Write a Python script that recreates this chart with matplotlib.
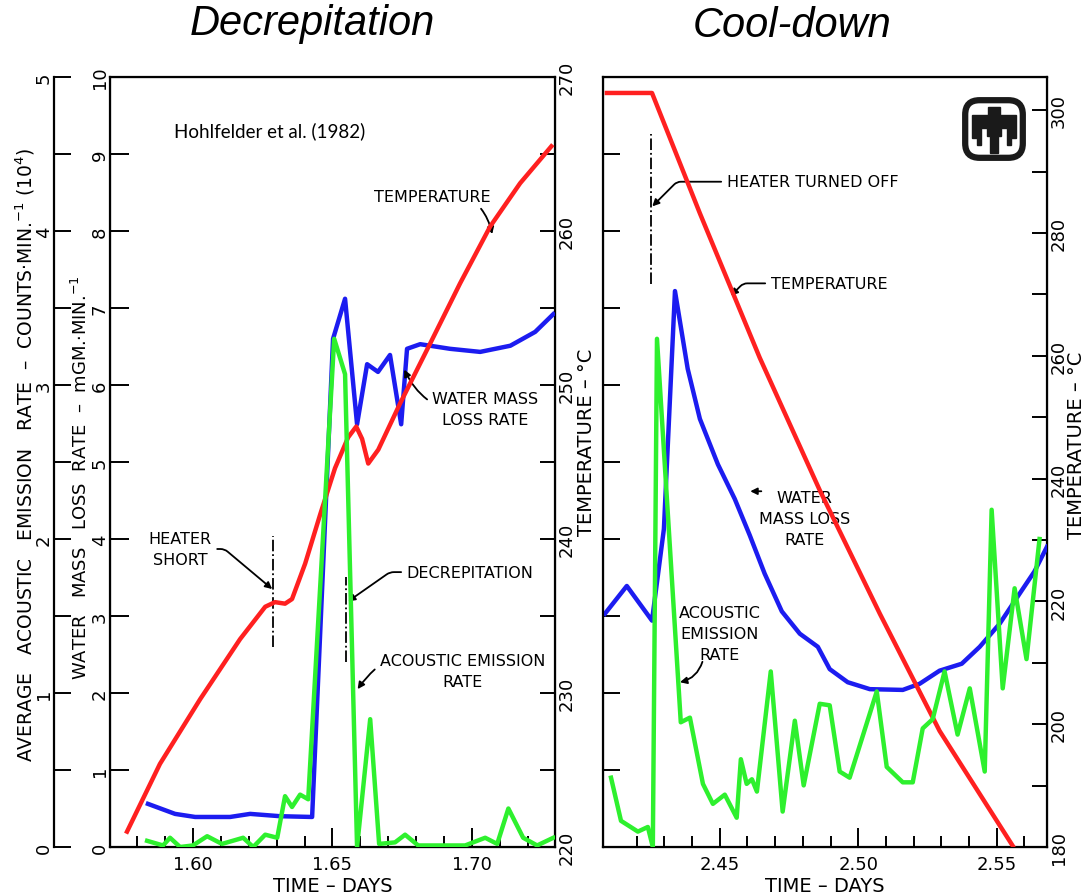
import numpy as np
import matplotlib.pyplot as plt
from matplotlib.patches import FancyBboxPatch, Polygon

plt.rcParams['font.family'] = ['Liberation Sans Narrow', 'DejaVu Sans']
plt.rcParams['mathtext.fontset'] = 'dejavusans'

RED = '#ff2020'
BLUE = '#1c1cf0'
GREEN = '#2ef02e'

# ---------------- Decrepitation (left panel) ----------------
dec_temp_t = [1.5764, 1.5882, 1.6026, 1.6169, 1.6259, 1.6294, 1.6330, 1.6355, 1.6402,
              1.6456, 1.6509, 1.6556, 1.6585, 1.6606, 1.6628, 1.6664, 1.6742, 1.6850,
              1.6957, 1.7065, 1.7172, 1.7284]
dec_temp = [221.0, 225.4, 229.6, 233.5, 235.6, 235.9, 235.8, 236.1, 238.4,
            241.6, 244.6, 246.6, 247.3, 246.5, 244.9, 245.8, 248.8, 252.7,
            256.6, 260.3, 263.1, 265.5]

dec_water_t = [1.5839, 1.5936, 1.6008, 1.6133, 1.6205, 1.6312, 1.6427, 1.6502, 1.6545,
               1.6588, 1.6624, 1.6663, 1.6706, 1.6746, 1.6767, 1.6814, 1.6921, 1.7029,
               1.7137, 1.7226, 1.7291]
dec_water = [0.56, 0.43, 0.39, 0.39, 0.43, 0.40, 0.39, 6.60, 7.12,
             5.49, 6.27, 6.17, 6.39, 5.49, 6.47, 6.53, 6.47, 6.43,
             6.51, 6.69, 6.92]

dec_ae_t = [1.5836, 1.5893, 1.5918, 1.5954, 1.6000, 1.6051, 1.6104, 1.6180, 1.6216,
            1.6259, 1.6302, 1.6330, 1.6355, 1.6384, 1.6413, 1.6506, 1.6545, 1.6588,
            1.6635, 1.6667, 1.6724, 1.6760, 1.6807, 1.6975, 1.7047, 1.7090, 1.7130,
            1.7183, 1.7233, 1.7291]
dec_ae = [0.04, 0.01, 0.06, 0.0, 0.01, 0.07, 0.02, 0.06, 0.0,
          0.08, 0.06, 0.33, 0.26, 0.34, 0.31, 3.30, 3.07, 0.0,
          0.83, 0.02, 0.03, 0.08, 0.01, 0.01, 0.06, 0.02, 0.25,
          0.06, 0.01, 0.06]

# ---------------- Cool-down (right panel) ----------------
cool_temp_t = [2.4092, 2.4255, 2.4428, 2.4644, 2.4861, 2.5078, 2.5294, 2.5558]
cool_temp = [302.8, 302.8, 283.2, 259.7, 238.1, 218.0, 198.9, 180.2]

cool_water_t = [2.4085, 2.4164, 2.4255, 2.4298, 2.4338, 2.4384, 2.4428, 2.4493, 2.4554,
                2.4608, 2.4662, 2.4724, 2.4789, 2.4854, 2.4897, 2.4962, 2.5042, 2.5161,
                2.5222, 2.5294, 2.5374, 2.5439, 2.5511, 2.5583, 2.5637, 2.5682]
cool_water = [3.03, 3.39, 2.94, 4.13, 7.22, 6.21, 5.56, 4.97, 4.52,
              4.05, 3.55, 3.06, 2.77, 2.60, 2.31, 2.14, 2.05, 2.04,
              2.12, 2.29, 2.38, 2.60, 2.90, 3.29, 3.58, 3.90]

cool_ae_t = [2.4107, 2.4143, 2.4204, 2.4240, 2.4258, 2.4273, 2.4359, 2.4392, 2.4439,
             2.4475, 2.4518, 2.4561, 2.4576, 2.4597, 2.4616, 2.4634, 2.4684, 2.4727,
             2.4771, 2.4803, 2.4861, 2.4897, 2.4933, 2.4969, 2.5067, 2.5103, 2.5161,
             2.5197, 2.5233, 2.5269, 2.5312, 2.5359, 2.5403, 2.5457, 2.5482, 2.5522,
             2.5565, 2.5608, 2.5655]
cool_ae = [0.45, 0.17, 0.10, 0.13, 0.0, 3.30, 0.81, 0.84, 0.41,
           0.28, 0.34, 0.19, 0.57, 0.41, 0.44, 0.36, 1.14, 0.23,
           0.82, 0.40, 0.93, 0.92, 0.49, 0.45, 1.01, 0.52, 0.42,
           0.42, 0.77, 0.83, 1.14, 0.73, 1.03, 0.49, 2.19, 1.03,
           1.68, 1.22, 2.00]

W, H = 1085, 895
fig = plt.figure(figsize=(W / 100, H / 100), dpi=100)

def fx(px):
    return px / W

def fy(py):
    return 1 - py / H

bot = fy(848)
hgt = (848 - 78) / H
axL = fig.add_axes([fx(110), bot, (555 - 110) / W, hgt])
axR = fig.add_axes([fx(603), bot, (1047 - 603) / W, hgt])

lw_curve = 3.2
tick_kw = dict(direction='in', width=1.4, labelsize=13, colors='black')


def style_frame(ax):
    for s in ax.spines.values():
        s.set_linewidth(1.6)
    ax.tick_params(axis='x', which='major', length=14, pad=6, **tick_kw)
    ax.tick_params(axis='x', which='minor', length=8, width=1.4, direction='in')
    ax.tick_params(top=False, which='both')


# ---- left panel axes ----
axL.set_xlim(1.5703, 1.7297)
axL.set_ylim(0, 10)
axL.set_xticks([1.60, 1.65, 1.70])
axL.set_xticklabels(['1.60', '1.65', '1.70'])
axL.set_xticks(np.arange(1.58, 1.73, 0.01), minor=True)
axL.set_yticks(range(0, 11))
style_frame(axL)
axL.tick_params(axis='y', length=14, pad=1, labelrotation=90, **tick_kw)
axL.set_xlabel('TIME – DAYS', fontsize=14, labelpad=2)

axL_t = axL.twinx()
axL_t.set_ylim(220, 270)
axL_t.set_yticks(range(220, 271, 10))
axL_t.set_yticks(range(225, 270, 10), minor=True)
axL_t.tick_params(axis='y', which='both', length=11, pad=2, labelrotation=90, **tick_kw)

axL_a = axL.twinx()
axL_a.set_ylim(0, 5)
axL_a.spines['left'].set_visible(True)
axL_a.spines['left'].set_position(('outward', 40))
axL_a.spines['left'].set_linewidth(1.6)
for s in ['right', 'top', 'bottom']:
    axL_a.spines[s].set_visible(False)
axL_a.yaxis.set_ticks_position('left')
axL_a.set_yticks(range(0, 6))
axL_a.set_yticks(np.arange(0.5, 5, 1.0), minor=True)
axL_a.tick_params(axis='y', which='both', length=12, pad=1, labelrotation=90, **tick_kw)

axL_t.plot(dec_temp_t, dec_temp, color=RED, lw=lw_curve, solid_joinstyle='round')
axL.plot(dec_water_t, dec_water, color=BLUE, lw=lw_curve, solid_joinstyle='round', zorder=3)
axL_a.plot(dec_ae_t, dec_ae, color=GREEN, lw=lw_curve, solid_joinstyle='round')

for lbl in axL.get_yticklabels() + axL_t.get_yticklabels() + axL_a.get_yticklabels():
    lbl.set_va('center')

# ---- right panel axes ----
axR.set_xlim(2.4078, 2.5682)
axR.set_ylim(0, 10)
axR.set_xticks([2.45, 2.50, 2.55])
axR.set_xticklabels(['2.45', '2.50', '2.55'])
axR.set_xticks(np.arange(2.42, 2.57, 0.01), minor=True)
axR.set_yticks(range(1, 10))
style_frame(axR)
axR.tick_params(axis='y', length=12, labelleft=False, direction='in', width=1.4)
axR.set_xlabel('TIME – DAYS', fontsize=14, labelpad=2)

axR_t = axR.twinx()
axR_t.set_ylim(180, 305.4)
axR_t.set_yticks(range(180, 301, 20))
axR_t.set_yticks(range(190, 301, 20), minor=True)
axR_t.tick_params(axis='y', which='both', length=11, pad=2, labelrotation=90, **tick_kw)
for lbl in axR_t.get_yticklabels():
    lbl.set_va('center')

axR_a = axR.twinx()
axR_a.set_ylim(0, 5)
axR_a.axis('off')

axR_t.plot(cool_temp_t, cool_temp, color=RED, lw=lw_curve, solid_joinstyle='round')
axR.plot(cool_water_t, cool_water, color=BLUE, lw=lw_curve, solid_joinstyle='round', zorder=3)
axR_a.plot(cool_ae_t, cool_ae, color=GREEN, lw=lw_curve, solid_joinstyle='round')

# ---- axis titles (rotated) ----
fig.text(fx(25), fy(455), 'AVERAGE   ACOUSTIC   EMISSION   RATE  –  COUNTS·MIN.$^{-1}$ (10$^{4}$)',
         rotation=90, ha='center', va='center', fontsize=13.5)
fig.text(fx(81), fy(478), 'WATER   MASS   LOSS  RATE  –  mGM.·MIN.$^{-1}$',
         rotation=90, ha='center', va='center', fontsize=13)
fig.text(fx(586), fy(442), 'TEMPERATURE – °C', rotation=90, ha='center', va='center', fontsize=14)
fig.text(fx(1077), fy(445), 'TEMPERATURE – °C', rotation=90, ha='center', va='center', fontsize=14)

fig.text(fx(312), fy(24), 'Decrepitation', style='italic', ha='center', va='center',
         fontsize=30, family='Liberation Sans')
fig.text(fx(792), fy(26), 'Cool-down', style='italic', ha='center', va='center',
         fontsize=30, family='Liberation Sans')
fig.text(fx(174), fy(131), 'Hohlfelder et al. (1982)', ha='left', va='center',
         fontsize=13.5, family='Lato')

# ---- annotations, left panel ----
ann = dict(fontsize=11.5, ha='center', va='center', linespacing=1.5)
arrow = dict(arrowstyle='-|>', color='black', lw=1.3, mutation_scale=10, shrinkA=2, shrinkB=0)

axL.annotate('TEMPERATURE', xy=(1.7072, 7.96), xytext=(1.6857, 8.45),
             arrowprops=dict(arrow, connectionstyle='arc3,rad=-0.5'), **ann)
axL.annotate('WATER MASS\nLOSS RATE', xy=(1.6757, 6.20), xytext=(1.7047, 5.69),
             arrowprops=dict(arrow, connectionstyle='arc3,rad=-0.4'), **ann)
axL.annotate('HEATER\nSHORT', xy=(1.6284, 3.35), xytext=(1.5954, 3.87),
             arrowprops=dict(arrow, connectionstyle='angle,angleA=0,angleB=140,rad=4'), **ann)
axL.annotate('DECREPITATION', xy=(1.6556, 3.19), xytext=(1.6993, 3.57),
             arrowprops=dict(arrow, connectionstyle='angle,angleA=0,angleB=35,rad=4'), **ann)
axL.annotate('ACOUSTIC EMISSION\nRATE', xy=(1.6590, 2.05), xytext=(1.6965, 2.29),
             arrowprops=dict(arrow, connectionstyle='arc3,rad=0.5'), **ann)
axL.plot([1.6287, 1.6287], [2.60, 4.04], color='black', lw=1.3, ls='-.')
axL.plot([1.6549, 1.6549], [2.40, 3.51], color='black', lw=1.3, ls='-.')

# ---- annotations, right panel ----
axR.annotate('HEATER TURNED OFF', xy=(2.4256, 8.32), xytext=(2.4525, 8.64),
             arrowprops=dict(arrow, connectionstyle='angle,angleA=0,angleB=45,rad=4'),
             fontsize=11.5, ha='left', va='center')
axR.annotate('TEMPERATURE', xy=(2.4540, 7.16), xytext=(2.4684, 7.32),
             arrowprops=dict(arrow, connectionstyle='angle,angleA=0,angleB=45,rad=4'),
             fontsize=11.5, ha='left', va='center')
axR.text(2.4807, 4.26, 'WATER\nMASS LOSS\nRATE', **ann)
axR.annotate('', xy=(2.4610, 4.62), xytext=(2.4660, 4.62), arrowprops=arrow)
axR.text(2.4500, 2.77, 'ACOUSTIC\nEMISSION\nRATE', **ann)
axR.annotate('', xy=(2.4356, 2.14), xytext=(2.4440, 2.44),
             arrowprops=dict(arrow, connectionstyle='arc3,rad=-0.3'))
axR.plot([2.4251, 2.4251], [7.31, 9.26], color='black', lw=1.3, ls='-.')

# ---- logo ----
axLogo = fig.add_axes([fx(958), fy(166), 72 / W, 72 / H])
axLogo.set_xlim(0, 1)
axLogo.set_ylim(0, 1)
axLogo.axis('off')
axLogo.add_patch(FancyBboxPatch((0.1, 0.1), 0.8, 0.8, boxstyle='round,pad=0.0,rounding_size=0.2',
                                fill=False, ec='#1a1a1a', lw=4.5))
half = [(0.50, 0.80), (0.58, 0.80), (0.58, 0.70), (0.80, 0.70), (0.80, 0.38), (0.74, 0.38),
        (0.74, 0.28), (0.68, 0.28), (0.68, 0.52), (0.60, 0.52), (0.60, 0.40), (0.55, 0.40),
        (0.55, 0.16), (0.50, 0.16)]
bird = half + [(1 - x, y) for x, y in reversed(half)]
axLogo.add_patch(Polygon(bird, closed=True, color='#1a1a1a'))

fig.savefig('out.png', dpi=100)
